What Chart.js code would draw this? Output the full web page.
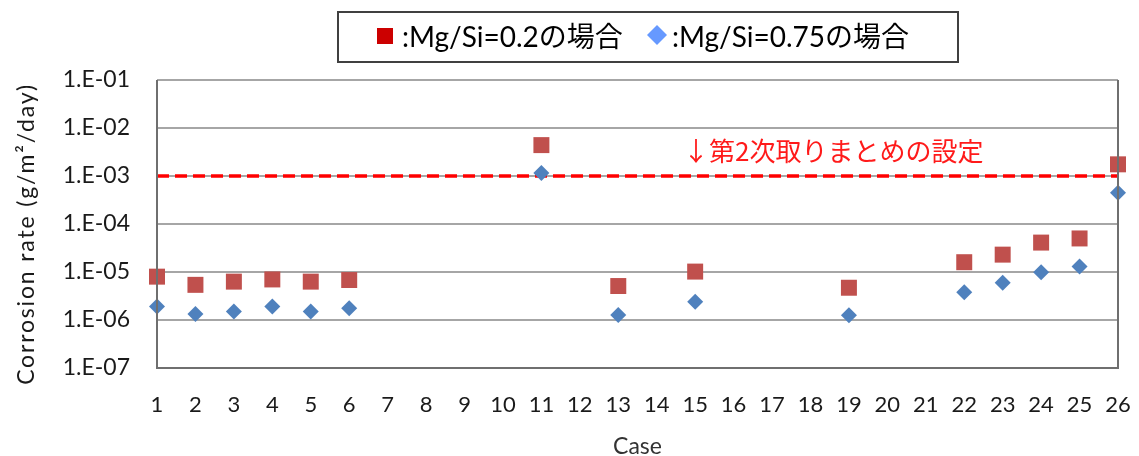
<!DOCTYPE html>
<html>
<head>
<meta charset="utf-8">
<script src="https://cdn.jsdelivr.net/npm/chart.js@4"></script>
<style>
  body { margin: 0; background: #fff; }
  #wrap { width: 1139px; height: 456px; }
</style>
</head>
<body>
<div id="wrap"><canvas id="rateChart" width="1139" height="456"></canvas></div>
<script>
// ==== Data ====
const caseLabels = ["1","2","3","4","5","6","7","8","9","10","11","12","13","14","15","16","17","18","19","20","21","22","23","24","25","26"];
const cases = [1, 2, 3, 4, 5, 6, 11, 13, 15, 19, 22, 23, 24, 25, 26];
const rateMgSi02 = [8.0e-6, 5.4e-6, 6.3e-6, 7.0e-6, 6.3e-6, 6.8e-6, 4.4e-3, 5.1e-6, 1.02e-5, 4.7e-6, 1.6e-5, 2.3e-5, 4.1e-5, 5.0e-5, 1.75e-3];
const rateMgSi075 = [1.9e-6, 1.33e-6, 1.5e-6, 1.9e-6, 1.5e-6, 1.75e-6, 1.15e-3, 1.27e-6, 2.4e-6, 1.26e-6, 3.8e-6, 6.0e-6, 9.9e-6, 1.3e-5, 4.5e-4];
const limitCases = [1, 26];
const limitValue = 1e-3;
const yTickValues = [1e-7, 1e-6, 1e-5, 1e-4, 1e-3, 1e-2, 1e-1];
const yTickLabels = ["1.E-07", "1.E-06", "1.E-05", "1.E-04", "1.E-03", "1.E-02", "1.E-01"];
const legendLabels = [":Mg/Si=0.2の場合", ":Mg/Si=0.75の場合"];
const limitLabel = "↓第2次取りまとめの設定";
const yTitle = "Corrosion rate (g/m²/day)";

const FONT = "Lato, 'Noto Sans CJK JP', sans-serif";
const RED = "#C0504D";
const BLUE = "#4F81BD";

function toPoints(xs, ys) {
  return xs.map((x, i) => ({ x: x, y: ys[i] }));
}

// ==== Plugins ====
const frameAndNotes = {
  id: "frameAndNotes",
  afterDraw(chart) {
    const ctx = chart.ctx;
    const a = chart.chartArea;
    ctx.save();
    // plot frame
    ctx.strokeStyle = "#6F6F6F";
    ctx.lineWidth = 2;
    ctx.beginPath();
    ctx.moveTo(a.left, a.top);
    ctx.lineTo(a.left, a.bottom);
    ctx.lineTo(a.right, a.bottom);
    ctx.lineTo(a.right, a.top);
    ctx.stroke();

    // y axis title, spread to the same length as the original
    ctx.save();
    ctx.translate(27, (a.top + a.bottom) / 2 + 10);
    ctx.rotate(-Math.PI / 2);
    ctx.font = "23px " + FONT;
    ctx.fillStyle = "#1A1A1A";
    ctx.textAlign = "center";
    ctx.textBaseline = "middle";
    const w = ctx.measureText(yTitle).width;
    ctx.letterSpacing = Math.max(0, (300 - w) / (yTitle.length - 1)).toFixed(2) + "px";
    ctx.fillText(yTitle, 0, 0);
    ctx.restore();

    // limit annotation
    const yLim = chart.scales.y.getPixelForValue(limitValue);
    ctx.font = "26px 'Noto Sans CJK JP', sans-serif";
    ctx.fillStyle = "#FF1A1A";
    ctx.textBaseline = "middle";
    ctx.textAlign = "left";
    ctx.fillText(limitLabel, 683, yLim - 25, 306);

    // legend box
    ctx.fillStyle = "#fff";
    ctx.fillRect(338, 12, 620, 50);
    ctx.strokeStyle = "#404040";
    ctx.lineWidth = 2;
    ctx.strokeRect(338, 12, 620, 50);

    const cy = 38;
    ctx.font = "28px " + FONT;
    ctx.fillStyle = "#CC0000";
    ctx.fillRect(377, 28, 16, 16);
    ctx.fillStyle = "#000";
    ctx.fillText(legendLabels[0], 402, cy, 225);
    ctx.fillStyle = "#6699FF";
    ctx.beginPath();
    ctx.moveTo(657, 25);
    ctx.lineTo(667, 35);
    ctx.lineTo(657, 45);
    ctx.lineTo(647, 35);
    ctx.closePath();
    ctx.fill();
    ctx.fillStyle = "#000";
    ctx.fillText(legendLabels[1], 672, cy, 245);
    ctx.restore();
  }
};

// ==== Chart ====
const ctx = document.getElementById("rateChart").getContext("2d");
const chart = new Chart(ctx, {
  type: "scatter",
  data: {
    datasets: [
      {
        label: "Mg/Si=0.2",
        data: toPoints(cases, rateMgSi02),
        pointStyle: "rect",
        pointRadius: 11.3,
        backgroundColor: RED,
        borderColor: RED,
        borderWidth: 0,
        clip: false,
        order: 1
      },
      {
        label: "Mg/Si=0.75",
        data: toPoints(cases, rateMgSi075),
        pointStyle: "rectRot",
        pointRadius: 8,
        backgroundColor: BLUE,
        borderColor: BLUE,
        borderWidth: 0,
        clip: false,
        order: 0
      },
      {
        type: "line",
        label: "limit",
        data: toPoints(limitCases, [limitValue, limitValue]),
        borderColor: "#FF0000",
        borderWidth: 3.5,
        borderDash: [12, 6],
        pointRadius: 0,
        order: 2
      }
    ]
  },
  options: {
    responsive: false,
    animation: false,
    devicePixelRatio: 1,
    layout: { padding: { top: 80, right: 21, left: 0, bottom: 0 } },
    plugins: {
      legend: { display: false },
      tooltip: { enabled: false }
    },
    scales: {
      x: {
        type: "linear",
        min: 1,
        max: 26,
        afterBuildTicks: axis => {
          axis.ticks = caseLabels.map((_, i) => ({ value: i + 1 }));
        },
        afterFit: axis => {
          axis.height = 88;
          axis.paddingLeft = 0;
          axis.paddingRight = 0;
        },
        grid: { display: false, drawTicks: false },
        border: { display: false },
        ticks: {
          padding: 24,
          color: "#1A1A1A",
          font: { family: FONT, size: 22 },
          callback: v => caseLabels[v - 1]
        },
        title: {
          display: true,
          text: "Case",
          color: "#333",
          font: { family: FONT, size: 23 },
          padding: { top: 0, bottom: -4 }
        }
      },
      y: {
        type: "logarithmic",
        min: 1e-7,
        max: 1e-1,
        afterBuildTicks: axis => {
          axis.ticks = yTickValues.map(v => ({ value: v }));
        },
        afterFit: axis => {
          axis.width = 157;
          axis.paddingTop = 0;
          axis.paddingBottom = 0;
        },
        grid: { color: "#A6A6A6", lineWidth: 2, drawTicks: false },
        border: { display: false },
        ticks: {
          padding: 27,
          color: "#1A1A1A",
          font: { family: FONT, size: 23 },
          callback: v => yTickLabels[yTickValues.indexOf(v)]
        }
      }
    }
  },
  plugins: [frameAndNotes]
});
</script>
</body>
</html>
